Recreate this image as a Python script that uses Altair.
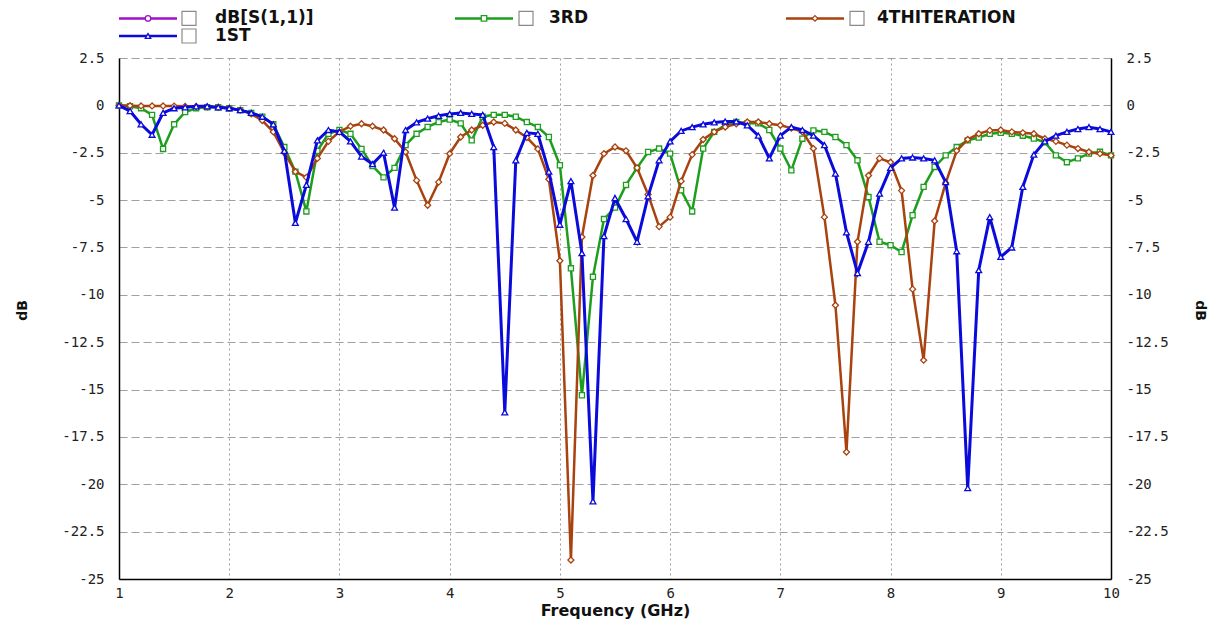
import altair as alt
import pandas as pd

# ---------------- data ----------------
FREQ = [1.0, 1.1, 1.2, 1.3, 1.4, 1.5, 1.6, 1.7, 1.8, 1.9,
        2.0, 2.1, 2.2, 2.3, 2.4, 2.5, 2.6, 2.7, 2.8, 2.9,
        3.0, 3.1, 3.2, 3.3, 3.4, 3.5, 3.6, 3.7, 3.8, 3.9,
        4.0, 4.1, 4.2, 4.3, 4.4, 4.5, 4.6, 4.7, 4.8, 4.9,
        5.0, 5.1, 5.2, 5.3, 5.4, 5.5, 5.6, 5.7, 5.8, 5.9,
        6.0, 6.1, 6.2, 6.3, 6.4, 6.5, 6.6, 6.7, 6.8, 6.9,
        7.0, 7.1, 7.2, 7.3, 7.4, 7.5, 7.6, 7.7, 7.8, 7.9,
        8.0, 8.1, 8.2, 8.3, 8.4, 8.5, 8.6, 8.7, 8.8, 8.9,
        9.0, 9.1, 9.2, 9.3, 9.4, 9.5, 9.6, 9.7, 9.8, 9.9,
        10.0]

S_1ST = [0.0, -0.3, -1.0, -1.55, -0.4, -0.15, -0.1, -0.05, -0.05, -0.1,
         -0.15, -0.25, -0.4, -0.6, -1.0, -2.4, -6.2, -4.2, -1.85, -1.3,
         -1.4, -1.9, -2.7, -3.1, -2.5, -5.4, -1.3, -0.9, -0.7, -0.55,
         -0.45, -0.4, -0.45, -0.5, -2.2, -16.2, -2.9, -1.45, -1.5, -3.5,
         -6.3, -4.0, -7.8, -20.9, -6.9, -4.9, -6.0, -7.2, -4.8, -2.9,
         -1.9, -1.35, -1.15, -1.0, -0.9, -0.85, -0.85, -1.05, -1.6, -2.8,
         -1.6, -1.15, -1.3, -1.6, -2.1, -3.6, -6.7, -8.85, -7.2, -4.66,
         -3.3, -2.8, -2.75, -2.8, -2.9, -4.05, -7.7, -20.2, -8.7, -5.9,
         -8.0, -7.5, -4.3, -2.6, -1.9, -1.6, -1.4, -1.25, -1.15, -1.25,
         -1.4]

S_3RD = [0.0, -0.05, -0.15, -0.5, -2.3, -1.0, -0.35, -0.15, -0.1, -0.1,
         -0.15, -0.25, -0.4, -0.6, -1.0, -2.2, -3.5, -5.6, -2.4, -1.5,
         -1.3, -1.5, -2.3, -3.2, -3.8, -3.3, -2.1, -1.5, -1.14, -0.88,
         -0.75, -0.95, -1.85, -0.6, -0.5, -0.5, -0.6, -0.88, -1.14, -1.67,
         -3.16, -8.6, -15.3, -9.05, -6.0, -5.4, -4.2, -3.3, -2.46, -2.28,
         -2.55, -4.48, -5.6, -2.28, -1.4, -1.05, -0.88, -0.95, -0.95, -1.3,
         -2.28, -3.43, -1.76, -1.32, -1.4, -1.67, -2.1, -2.9, -4.84, -7.2,
         -7.38, -7.74, -5.8, -4.3, -3.25, -2.64, -2.2, -1.85, -1.7, -1.5,
         -1.45, -1.5, -1.6, -1.75, -1.95, -2.64, -3.0, -2.8, -2.55, -2.45,
         -2.64]

S_4TH = [0.0, -0.02, -0.03, -0.03, -0.03, -0.04, -0.05, -0.06, -0.08, -0.1,
         -0.15, -0.25, -0.45, -0.8, -1.4, -2.5, -3.5, -3.8, -2.8, -1.9,
         -1.4, -1.1, -0.97, -1.1, -1.3, -1.76, -2.46, -3.96, -5.27, -4.05,
         -2.55, -1.67, -1.3, -1.05, -0.88, -0.95, -1.3, -1.7, -2.3, -3.9,
         -8.2, -24.0, -6.95, -3.7, -2.55, -2.2, -2.4, -3.3, -4.7, -6.4,
         -5.9, -4.0, -2.6, -1.8, -1.4, -1.14, -0.97, -0.88, -0.88, -0.97,
         -1.05, -1.2, -1.4, -2.28, -5.9, -10.55, -18.3, -7.2, -3.7, -2.8,
         -3.0, -4.5, -9.7, -13.45, -6.1, -4.1, -2.4, -1.8, -1.5, -1.32,
         -1.3, -1.4, -1.45, -1.5, -1.76, -1.9, -2.1, -2.28, -2.46, -2.55,
         -2.64]

NAMES = ["dB[S(1,1)]", "3RD", "4THITERATION", "1ST"]
COLORS = ["#A010C8", "#1E9E1E", "#A8420E", "#0A0ADC"]
SHAPES = ["circle", "square", "diamond", "triangle-up"]

X_TICKS = [1, 2, 3, 4, 5, 6, 7, 8, 9, 10]
Y_TICKS = [2.5, 0, -2.5, -5, -7.5, -10, -12.5, -15, -17.5, -20, -22.5, -25]

# ---------------- layout ----------------
W, H = 992, 521
LBL_FONT = "DejaVu Sans Mono"
TTL_FONT = "DejaVu Sans"

x_scale = alt.Scale(domain=[1, 10], nice=False, zero=False)
y_scale = alt.Scale(domain=[-25, 2.5], nice=False, zero=False)

x_axis = alt.Axis(values=X_TICKS, title="Frequency (GHz)", grid=True, gridDash=[2, 3],
                  gridColor="#9c9c9c", gridWidth=1, ticks=False, domain=True,
                  domainColor="#000000", domainWidth=1.5, labelFont=LBL_FONT,
                  labelFontSize=14, labelColor="#222222", labelPadding=7,
                  labelFlush=False, labelOverlap=False,
                  titleFont=TTL_FONT, titleFontWeight="bold", titleFontSize=16,
                  titleColor="#111111", titleY=36, titleBaseline="alphabetic")

y_axis_left = alt.Axis(values=Y_TICKS, orient="left", title="dB",
                       labelExpr="toString(datum.value)", grid=True, gridDash=[8, 4],
                       gridColor="#a0a0a0", gridWidth=1, ticks=False,
                       domainColor="#000000", domainWidth=1.5, labelFont=LBL_FONT,
                       labelFontSize=14, labelColor="#222222", labelPadding=15,
                       labelFlush=False, labelOverlap=False,
                       titleFont=TTL_FONT, titleFontWeight="bold", titleFontSize=14,
                       titleColor="#111111", titleX=-97, titleY=252,
                       titleAlign="center", titleBaseline="middle", titleAngle=270)

y_axis_right = alt.Axis(values=Y_TICKS, orient="right", title="dB",
                        labelExpr="toString(datum.value)", grid=False, ticks=False,
                        domainColor="#000000", domainWidth=1.5, labelFont=LBL_FONT,
                        labelFontSize=14, labelColor="#222222", labelPadding=15,
                        labelFlush=False, labelOverlap=False,
                        titleFont=TTL_FONT, titleFontWeight="bold", titleFontSize=14,
                        titleColor="#111111", titleX=88, titleY=252,
                        titleAlign="center", titleBaseline="middle", titleAngle=90)


def series_df(vals):
    return pd.DataFrame({"f": FREQ, "v": vals})


layers = []
first = True
for vals, idx, width, msize in [(S_3RD, 1, 2.5, 26), (S_4TH, 2, 2.5, 36), (S_1ST, 3, 3.0, 34)]:
    d = series_df(vals)
    yax = y_axis_left if first else None
    enc_x = alt.X("f:Q", scale=x_scale, axis=x_axis if first else None)
    enc_y = alt.Y("v:Q", scale=y_scale, axis=yax)
    line = alt.Chart(d).mark_line(color=COLORS[idx], strokeWidth=width).encode(x=enc_x, y=enc_y)
    pts = alt.Chart(d).mark_point(shape=SHAPES[idx], size=msize, filled=True, fill="white",
                                  stroke=COLORS[idx], strokeWidth=1.3, opacity=1).encode(
        x=alt.X("f:Q", scale=x_scale, axis=None), y=alt.Y("v:Q", scale=y_scale, axis=None))
    layers += [line, pts]
    first = False

right_axis = alt.Chart(series_df(S_1ST)).mark_point(opacity=0).encode(
    x=alt.X("f:Q", scale=x_scale, axis=None),
    y=alt.Y("v:Q", scale=y_scale, axis=y_axis_right))
layers.append(right_axis)

# ---------------- manual legend ----------------
COL_LINE_X = [0, 336, 667]
COL_BOX_X = [63, 400, 731]
COL_TEXT_X = [96, 430, 758]
ROW_Y = [-39.6, -22.0]
LEG_COL = [0, 1, 2, 0]
LEG_ROW = [0, 0, 0, 1]

leg = pd.DataFrame({"name": NAMES, "color": COLORS, "shape": SHAPES})
leg["lx0"] = [COL_LINE_X[c] for c in LEG_COL]
leg["lx1"] = leg["lx0"] + 58
leg["mx"] = leg["lx0"] + 29
leg["bx0"] = [COL_BOX_X[c] for c in LEG_COL]
leg["bx1"] = leg["bx0"] + 14
leg["tx"] = [COL_TEXT_X[c] for c in LEG_COL]
leg["ly"] = [ROW_Y[r] for r in LEG_ROW]
leg["by0"] = leg["ly"] - 7
leg["by1"] = leg["ly"] + 7

leg_line = alt.Chart(leg).mark_rule(strokeWidth=2.5).encode(
    x=alt.X("lx0:Q", scale=None), x2="lx1:Q", y=alt.Y("ly:Q", scale=None),
    color=alt.Color("color:N", scale=None))
leg_pt = alt.Chart(leg).mark_point(size=30, filled=True, fill="white", strokeWidth=1.3,
                                   opacity=1).encode(
    x=alt.X("mx:Q", scale=None), y=alt.Y("ly:Q", scale=None),
    stroke=alt.Stroke("color:N", scale=None), shape=alt.Shape("shape:N", scale=None))
leg_box = alt.Chart(leg).mark_rect(fill="white", stroke="#8a8a8a", strokeWidth=1.2).encode(
    x=alt.X("bx0:Q", scale=None), x2="bx1:Q",
    y=alt.Y("by0:Q", scale=None), y2="by1:Q")
leg_txt = alt.Chart(leg).mark_text(align="left", baseline="middle", font=TTL_FONT,
                                   fontWeight="bold", fontSize=17, color="#111111").encode(
    x=alt.X("tx:Q", scale=None), y=alt.Y("ly:Q", scale=None), text="name:N")

layers += [leg_line, leg_pt, leg_box, leg_txt]

chart = alt.layer(*layers).resolve_scale(x="independent", y="independent").properties(
    width=W, height=H,
    autosize=alt.AutoSizeParams(type="none"),
    padding={"left": 111, "top": 50, "right": 98, "bottom": 42},
    background="white",
).configure_view(stroke=None)

chart.save("out.html", embed_options={"renderer": "svg", "actions": False})
